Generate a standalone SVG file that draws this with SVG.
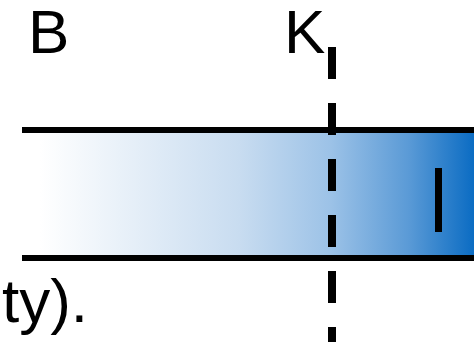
<svg xmlns="http://www.w3.org/2000/svg" width="474" height="342" viewBox="0 0 474 342">
  <style>
    .lbl { font-family: "Liberation Sans", Arial, sans-serif; font-size: 62px; fill: #000; }
    .rail { stroke: #000; stroke-width: 6; fill: none; }
  </style>
  <defs>
    <linearGradient id="fade" gradientUnits="userSpaceOnUse" x1="40" y1="0" x2="474" y2="0">
      <stop offset="0" stop-color="#ffffff"/>
      <stop offset="0.46" stop-color="#c8dcf0"/>
      <stop offset="0.67" stop-color="#9cc2e7"/>
      <stop offset="0.85" stop-color="#5a9ad6"/>
      <stop offset="1" stop-color="#0b6cc3"/>
    </linearGradient>
  </defs>

  <!-- shaded channel between the two rails -->
  <g id="channel">
    <rect x="22" y="130" width="452" height="128" fill="url(#fade)"/>
    <line class="rail" x1="22" y1="130" x2="474" y2="130"/>
    <line class="rail" x1="22" y1="258" x2="474" y2="258"/>
  </g>

  <!-- short vertical marker near the right end -->
  <g id="marker">
    <rect x="435" y="168" width="7" height="64" fill="#000"/>
  </g>

  <!-- dashed vertical cut line -->
  <g id="connectors">
    <line x1="332" y1="47" x2="332" y2="342" stroke="#000" stroke-width="8" stroke-dasharray="32 24"/>
  </g>

  <g id="labels">
    <text class="lbl" x="28" y="53">B</text>
    <text class="lbl" x="284" y="53">K</text>
    <text class="lbl" x="2" y="322">ty).</text>
  </g>
</svg>
